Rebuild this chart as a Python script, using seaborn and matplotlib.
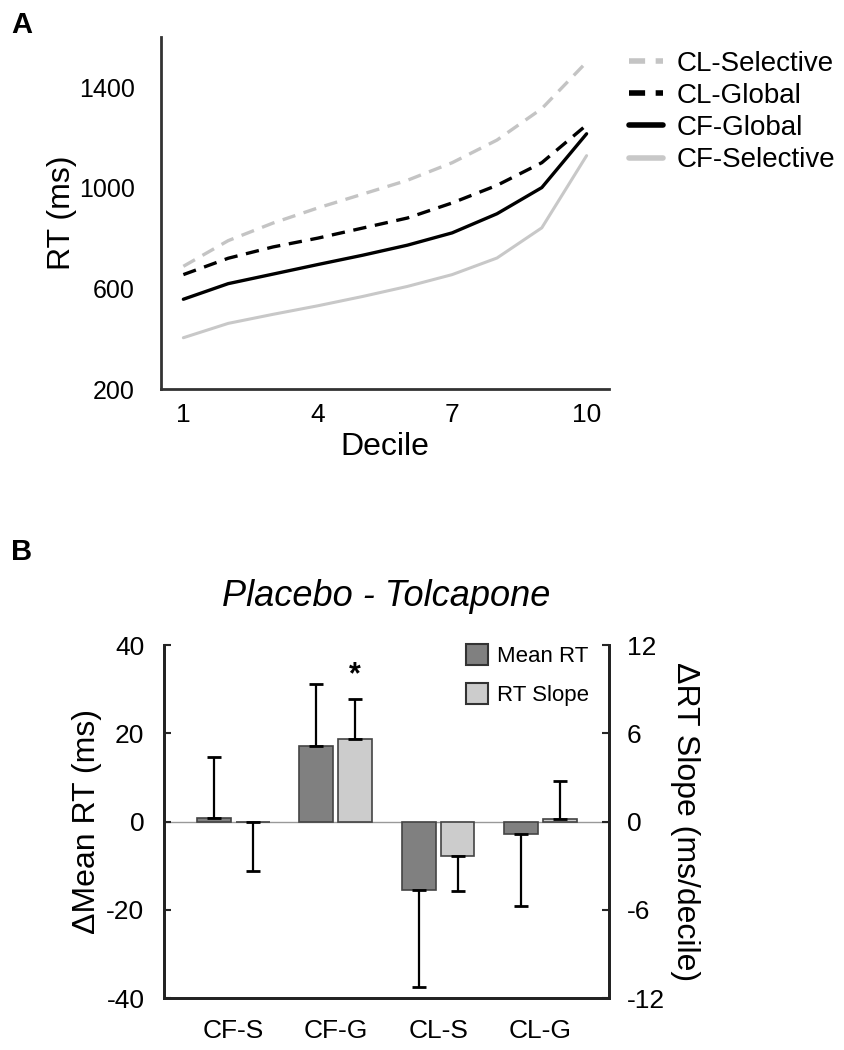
import matplotlib
matplotlib.use('Agg')

import matplotlib.pyplot as plt
import numpy as np
import pandas as pd
import seaborn as sns

# Panel A: RT by decile
deciles = [1, 2, 3, 4, 5, 6, 7, 8, 9, 10]
cl_selective = [688, 790, 860, 920, 975, 1030, 1100, 1190, 1315, 1500]
cl_global = [655, 720, 765, 800, 840, 880, 940, 1010, 1100, 1250]
cf_global = [557, 619, 657, 695, 732, 772, 821, 897, 1001, 1215]
cf_selective = [404, 461, 497, 531, 568, 608, 655, 721, 841, 1128]

# Panel B: placebo - tolcapone differences
conditions = ['CF-S', 'CF-G', 'CL-S', 'CL-G']
mean_rt = [0.8, 17.2, -15.5, -2.9]
mean_rt_err = [13.9, 14.0, 21.9, 16.2]
rt_slope = [-0.05, 5.6, -2.33, 0.18]
rt_slope_err = [3.3, 2.75, 2.4, 2.6]

sns.set_style('white')
plt.rcParams['font.family'] = ['Liberation Sans', 'DejaVu Sans']
plt.rcParams['axes.unicode_minus'] = False
plt.rcParams['text.color'] = 'black'
plt.rcParams['axes.labelcolor'] = 'black'

fig = plt.figure(figsize=(8.45, 10.5), dpi=100)

#   Panel A
ax = fig.add_axes([0.1905, 0.6295, 0.5302, 0.3353])

df_a = pd.DataFrame({
    'Decile': deciles * 4,
    'RT': cl_selective + cl_global + cf_global + cf_selective,
    'cond': ['CL-Selective'] * 10 + ['CL-Global'] * 10 + ['CF-Global'] * 10 + ['CF-Selective'] * 10,
})
styles = {
    'CL-Selective': dict(color='#c4c4c4', dashes=(4, 2.6), lw=2.4),
    'CL-Global': dict(color='black', dashes=(4, 2.6), lw=2.4),
    'CF-Global': dict(color='black', dashes=None, lw=2.4),
    'CF-Selective': dict(color='#c8c8c8', dashes=None, lw=2.2),
}
for name, st in styles.items():
    sub = df_a[df_a['cond'] == name]
    sns.lineplot(data=sub, x='Decile', y='RT', ax=ax, color=st['color'],
                 lw=st['lw'], label=name)
    if st['dashes']:
        ax.lines[-1].set_dashes(st['dashes'])

ax.set_xlim(0.5, 10.5)
ax.set_ylim(200, 1600)
ax.set_xticks(deciles)
ax.set_xticklabels([str(d) if d in (1, 4, 7, 10) else '' for d in deciles])
ax.set_yticks(np.arange(200, 1601, 200))
ax.set_yticklabels([str(v) if v in (200, 600, 1000, 1400) else '' for v in range(200, 1601, 200)])
ax.tick_params(axis='both', direction='in', length=5, width=1.5, colors='#222222',
               labelsize=19, labelcolor='black')
ax.tick_params(axis='y', pad=19, labelsize=18)
ax.tick_params(axis='x', pad=10)
for s in ['top', 'right']:
    ax.spines[s].set_visible(False)
for s in ['left', 'bottom']:
    ax.spines[s].set_linewidth(2)
    ax.spines[s].set_color('#333333')
ax.set_xlabel('Decile', fontsize=23, labelpad=4)
ax.set_ylabel('RT (ms)', fontsize=23, labelpad=1)

leg = ax.legend(loc='upper left', bbox_to_anchor=(629 / 845, 1 - 51 / 1050),
                bbox_transform=fig.transFigure, frameon=False, fontsize=20,
                handlelength=1.22, handletextpad=0.5, labelspacing=0.22,
                borderpad=0, borderaxespad=0)
for h, name in zip(leg.get_lines(), styles):
    h.set_linewidth(4)
    if styles[name]['dashes']:
        h.set_dashes((2.9, 1.9))

fig.text(22 / 845, 1 - 25 / 1050, 'A', fontsize=21, fontweight='bold', ha='center', va='center')

#   Panel B
axb = fig.add_axes([0.194, 0.0495, 0.5266, 0.3362])
axb2 = axb.twinx()

df_mean = pd.DataFrame({'cond': conditions, 'val': mean_rt, 'measure': 'Mean RT'})
df_slope = pd.DataFrame({'cond': conditions, 'val': rt_slope, 'measure': 'RT Slope'})
order = ['Mean RT', 'RT Slope']
pal = {'Mean RT': '#808080', 'RT Slope': '#cccccc'}

sns.barplot(data=df_mean, x='cond', y='val', hue='measure', hue_order=order,
            palette=pal, order=conditions, width=0.76, gap=0.13, dodge=True, ax=axb,
            edgecolor='#444444', linewidth=1.2, legend=False)
sns.barplot(data=df_slope, x='cond', y='val', hue='measure', hue_order=order,
            palette=pal, order=conditions, width=0.76, gap=0.13, dodge=True, ax=axb2,
            edgecolor='#444444', linewidth=1.2, legend=False)

off = 0.76 / 4
xpos = np.arange(len(conditions))
err_m = [np.where(np.array(mean_rt) < 0, mean_rt_err, 0), np.where(np.array(mean_rt) >= 0, mean_rt_err, 0)]
err_s = [np.where(np.array(rt_slope) < 0, rt_slope_err, 0), np.where(np.array(rt_slope) >= 0, rt_slope_err, 0)]
axb.errorbar(xpos - off, mean_rt, yerr=err_m, fmt='none', ecolor='black',
             elinewidth=1.6, capsize=5, capthick=2)
axb2.errorbar(xpos + off, rt_slope, yerr=err_s, fmt='none', ecolor='black',
              elinewidth=1.6, capsize=5, capthick=2)
axb2.text(1 + off, rt_slope[1] + rt_slope_err[1] + 0.6, '*', fontsize=22,
          fontweight='bold', ha='center', va='bottom')

axb.axhline(0, color='#999999', lw=1, zorder=0)
axb.set_xlim(-0.68, 3.67)
axb.set_ylim(-40, 40)
axb2.set_ylim(-12, 12)
axb.set_yticks([-40, -20, 0, 20, 40])
axb2.set_yticks([-12, -6, 0, 6, 12])
axb.tick_params(axis='y', direction='in', length=5, width=1.5, labelsize=19, pad=14,
                labelcolor='black')
axb2.tick_params(axis='y', direction='in', length=5, width=1.5, labelsize=19, pad=13,
                 labelcolor='black')
axb.tick_params(axis='x', length=0, labelsize=19, pad=15, labelcolor='black')
axb.set_xlabel('')
axb.set_ylabel('ΔMean RT (ms)', fontsize=23, labelpad=3)
axb2.set_ylabel('ΔRT Slope (ms/decile)', fontsize=23, rotation=270, labelpad=25)
for a in (axb, axb2):
    a.spines['top'].set_visible(False)
    for s in ['left', 'right', 'bottom']:
        a.spines[s].set_linewidth(2)
        a.spines[s].set_color('#222222')
axb.set_title('Placebo - Tolcapone', fontsize=26, style='italic', pad=28)

handles = [plt.Rectangle((0, 0), 1, 1, facecolor=pal[m], edgecolor='#333333', lw=1.5) for m in order]
axb2.legend(handles, order, loc='upper left', bbox_to_anchor=(466 / 845, 1 - 644 / 1050),
            bbox_transform=fig.transFigure, frameon=False, fontsize=16,
            handlelength=1.0, handleheight=1.1, handletextpad=0.4,
            labelspacing=0.7, borderpad=0, borderaxespad=0)

fig.text(22 / 845, 1 - 552 / 1050, 'B', fontsize=21, fontweight='bold', ha='center', va='center')

plt.savefig('out.png', dpi=100)
